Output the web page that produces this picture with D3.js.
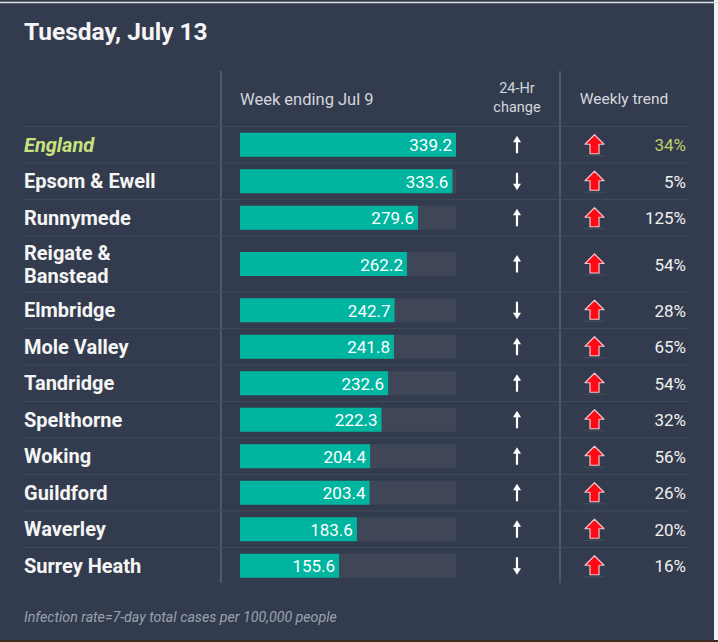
<!DOCTYPE html>
<html>
<head>
<meta charset="utf-8">
<script src="https://cdn.jsdelivr.net/npm/d3@7"></script>
<style>
  html, body { margin: 0; padding: 0; background: #f4f4f4; }
  svg { display: block; font-family: Roboto, "Noto Sans", sans-serif; }
</style>
</head>
<body>
<svg id="chart" width="718" height="642"></svg>
<script>
var areas = ["England", "Epsom & Ewell", "Runnymede", "Reigate & Banstead", "Elmbridge",
  "Mole Valley", "Tandridge", "Spelthorne", "Woking", "Guildford", "Waverley", "Surrey Heath"];
var rates = [339.2, 333.6, 279.6, 262.2, 242.7, 241.8, 232.6, 222.3, 204.4, 203.4, 183.6, 155.6];
var change24 = ["up", "down", "up", "up", "down", "up", "up", "up", "up", "up", "up", "down"];
var weeklyPct = [34, 5, 125, 54, 28, 65, 54, 32, 56, 26, 20, 16];
var weeklyDir = ["up", "up", "up", "up", "up", "up", "up", "up", "up", "up", "up", "up"];

var title = "Tuesday, July 13";
var colHeaders = ["Week ending Jul 9", "24-Hr", "change", "Weekly trend"];
var footnote = "Infection rate=7-day total cases per 100,000 people";

var bg = "#333c4e", teal = "#00b59f", track = "#3e4657", rule = "#414a5b",
    hilite = "#c9e27d";

var svg = d3.select("#chart");

// panel background + the screenshot edges
svg.append("rect").attr("x", 0).attr("y", 0).attr("width", 714).attr("height", 641).attr("fill", bg);
svg.append("rect").attr("x", 0).attr("y", 640).attr("width", 718).attr("height", 2).attr("fill", "#3b2b1e");
svg.append("line").attr("x1", 0).attr("x2", 718).attr("y1", 2.5).attr("y2", 2.5)
  .attr("stroke", "#dcdee2").attr("stroke-width", 1.5);

svg.append("text").attr("x", 24).attr("y", 40)
  .attr("fill", "#f5f5f5").attr("font-size", 24.5).attr("font-weight", 700)
  .text(title);

// row layout: two-line names get a taller row
var rowTop = 126.5, rowH = 36.5, rowH2 = 56;
var rows = areas.map(function(name, i) {
  return { name: name, rate: rates[i], c24: change24[i], pct: weeklyPct[i], dir: weeklyDir[i], i: i,
           lines: name === "Reigate & Banstead" ? ["Reigate &", "Banstead"] : [name] };
});
var yPos = rowTop;
rows.forEach(function(r) {
  r.h = r.lines.length > 1 ? rowH2 : rowH;
  r.y0 = yPos;
  r.cy = yPos + r.h / 2;
  yPos += r.h;
});
var tableBottom = yPos;

var x = d3.scaleLinear().domain([0, d3.max(rates)]).range([240, 456]);

// column dividers
[221, 560].forEach(function(xx) {
  svg.append("line").attr("x1", xx).attr("x2", xx).attr("y1", 71).attr("y2", tableBottom - 1)
    .attr("stroke", "#5b6372").attr("stroke-width", 1.5);
});

// headers
var hdr = svg.append("g").attr("fill", "#d3d7dd").attr("font-size", 15.5);
hdr.append("text").attr("x", 240).attr("y", 104.5).attr("font-size", 16.5).text(colHeaders[0]);
hdr.append("text").attr("x", 517).attr("y", 93).attr("text-anchor", "middle").attr("font-size", 14.5).text(colHeaders[1]);
hdr.append("text").attr("x", 517).attr("y", 112).attr("text-anchor", "middle").attr("font-size", 14.5).text(colHeaders[2]);
hdr.append("text").attr("x", 624).attr("y", 104).attr("text-anchor", "middle").text(colHeaders[3]);

// row rules
svg.append("g").selectAll("line").data(rows).enter().append("line")
  .attr("x1", 23).attr("x2", 688)
  .attr("y1", function(d) { return d.y0; }).attr("y2", function(d) { return d.y0; })
  .attr("stroke", rule).attr("stroke-width", 1.2);

var row = svg.append("g").selectAll("g.row").data(rows).enter().append("g").attr("class", "row");

// names
row.append("text")
  .attr("x", 24)
  .attr("y", function(d) { return d.lines.length > 1 ? d.cy - 4 : d.cy + 7; })
  .attr("fill", function(d) { return d.i === 0 ? hilite : "#f5f5f5"; })
  .attr("font-size", 20).attr("font-weight", 700)
  .attr("font-style", function(d) { return d.i === 0 ? "italic" : null; })
  .each(function(d) {
    var t = d3.select(this);
    d.lines.forEach(function(l, k) {
      t.append("tspan").attr("x", 24).attr("dy", k ? 22.5 : 0).text(l);
    });
  });

// bar tracks + bars
row.append("rect")
  .attr("x", x(0)).attr("width", x.range()[1] - x(0))
  .attr("y", function(d) { return d.cy - 12; }).attr("height", 24)
  .attr("fill", track);
row.append("rect")
  .attr("x", x(0)).attr("width", function(d) { return x(d.rate) - x(0); })
  .attr("y", function(d) { return d.cy - 12; }).attr("height", 24)
  .attr("fill", teal);
row.append("text")
  .attr("x", function(d) { return x(d.rate) - 4; })
  .attr("y", function(d) { return d.cy + 6.5; })
  .attr("text-anchor", "end").attr("fill", "#ffffff").attr("font-size", 17)
  .text(function(d) { return d3.format(".1f")(d.rate); });

// 24-hr change arrows
var thin = row.append("g").attr("transform", function(d) {
  return "translate(517," + d.cy + ")" + (d.c24 === "down" ? " rotate(180)" : "");
});
thin.append("line").attr("x1", 0).attr("x2", 0).attr("y1", 8.5).attr("y2", -4)
  .attr("stroke", "#ffffff").attr("stroke-width", 2.2);
thin.append("path").attr("d", "M0,-9L-4,-2.5L4,-2.5Z").attr("fill", "#ffffff");

// weekly trend block arrows
var fat = row.append("g").attr("transform", function(d) {
  return "translate(594.5," + d.cy + ")" + (d.dir === "down" ? " rotate(180)" : "");
});
fat.append("line").attr("x1", -11).attr("x2", 11).attr("y1", 11).attr("y2", 11)
  .attr("stroke", "#454e5e").attr("stroke-width", 1);
fat.append("path")
  .attr("d", "M0,-10L9.5,-0.5L4.5,-0.5L4.5,9L-4.5,9L-4.5,-0.5L-9.5,-0.5Z")
  .attr("fill", "#ff0a14").attr("stroke", "#f1c3cc").attr("stroke-width", 1.2)
  .attr("stroke-linejoin", "round");

row.append("text")
  .attr("x", 686).attr("y", function(d) { return d.cy + 6.5; })
  .attr("text-anchor", "end").attr("font-size", 17)
  .attr("fill", function(d) { return d.i === 0 ? "#bccf6c" : "#f0f0f0"; })
  .text(function(d) { return d.pct + "%"; });

svg.append("text").attr("x", 24).attr("y", 622)
  .attr("fill", "#9ba2ae").attr("font-size", 14.2).attr("font-style", "italic")
  .text(footnote);
</script>
</body>
</html>
